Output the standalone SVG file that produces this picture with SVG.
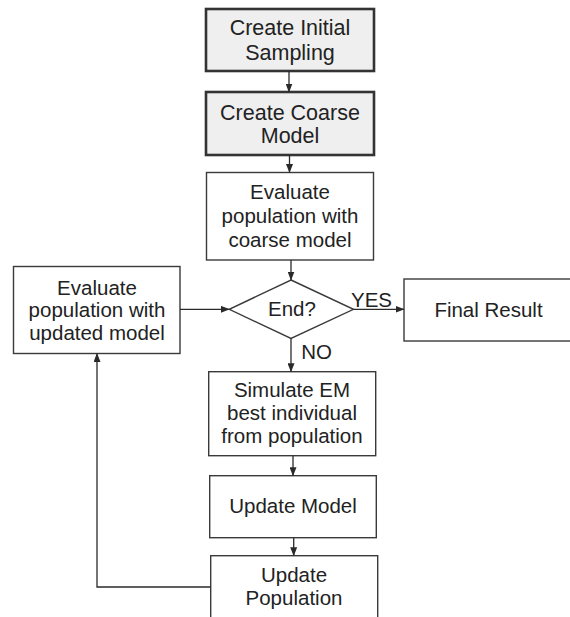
<svg xmlns="http://www.w3.org/2000/svg" width="570" height="617" viewBox="0 0 570 617">
<defs>
<marker id="ah" markerWidth="9" markerHeight="7" refX="8.5" refY="3.5" orient="auto" markerUnits="userSpaceOnUse">
<path d="M0,0 L9,3.5 L0,7 Z" fill="#2a2a2a"/>
</marker>
<style>
.box{fill:#ffffff;stroke:#3a3a3a;stroke-width:1.4}
.hbox{fill:#efefef;stroke:#333333;stroke-width:2.6}
.t{font-family:"Liberation Sans",Arial,sans-serif;font-size:20.5px;fill:#222222;text-anchor:middle}
.tb{font-family:"Liberation Sans",Arial,sans-serif;font-size:21.5px;fill:#222222;text-anchor:middle}
.c{fill:none;stroke:#2a2a2a;stroke-width:1.3}
</style>
</defs>
<rect width="570" height="617" fill="#ffffff"/>
<g id="n1">
<rect class="hbox" x="206" y="9" width="168" height="62"/>
<text class="tb" x="290" y="35">Create Initial</text>
<text class="tb" x="290" y="60">Sampling</text>
</g>
<g id="n2">
<rect class="hbox" x="206" y="92" width="168" height="63"/>
<text class="tb" x="290" y="120">Create Coarse</text>
<text class="tb" x="290" y="143">Model</text>
</g>
<g id="n3">
<rect class="box" x="206.5" y="172.5" width="167" height="87.5"/>
<text class="t" x="290" y="199">Evaluate</text>
<text class="t" x="290" y="223">population with</text>
<text class="t" x="290" y="247">coarse model</text>
</g>
<g id="n4">
<polygon class="box" points="291,280 353.5,309.3 291,338.5 229.3,309.3"/>
<text class="t" x="292" y="315.5">End?</text>
</g>
<g id="n5">
<rect class="box" x="404" y="279" width="170" height="62"/>
<text class="t" x="488.5" y="317">Final Result</text>
</g>
<g id="n6">
<rect class="box" x="13.5" y="266.5" width="166.5" height="87"/>
<text class="t" x="97" y="295">Evaluate</text>
<text class="t" x="97" y="317">population with</text>
<text class="t" x="97" y="340">updated model</text>
</g>
<g id="n7">
<rect class="box" x="208.7" y="371.7" width="167" height="84"/>
<text class="t" x="292" y="397">Simulate EM</text>
<text class="t" x="292" y="420">best individual</text>
<text class="t" x="292" y="443">from population</text>
</g>
<g id="n8">
<rect class="box" x="209.7" y="475.7" width="166.6" height="62"/>
<text class="t" x="293" y="513">Update Model</text>
</g>
<g id="n9">
<rect class="box" x="210.7" y="555.7" width="167" height="64"/>
<text class="t" x="294" y="582">Update</text>
<text class="t" x="294" y="605">Population</text>
</g>
<g id="connectors">
<line class="c" x1="289" y1="71" x2="289" y2="92" marker-end="url(#ah)"/>
<line class="c" x1="289.5" y1="155" x2="289.5" y2="172.5" marker-end="url(#ah)"/>
<line class="c" x1="291" y1="260" x2="291" y2="280" marker-end="url(#ah)"/>
<line class="c" x1="180" y1="309.3" x2="229.3" y2="309.3" marker-end="url(#ah)"/>
<line class="c" x1="353.5" y1="309.3" x2="404" y2="309.3" marker-end="url(#ah)"/>
<line class="c" x1="291" y1="338.5" x2="291" y2="371.7" marker-end="url(#ah)"/>
<line class="c" x1="293" y1="455.7" x2="293" y2="475.7" marker-end="url(#ah)"/>
<line class="c" x1="293.7" y1="537.7" x2="293.7" y2="555.7" marker-end="url(#ah)"/>
<polyline class="c" points="210.7,587 97,587 97,353.5" marker-end="url(#ah)"/>
<text class="t" x="371.5" y="306.5">YES</text>
<text class="t" x="316.5" y="358.5">NO</text>
</g>
</svg>
